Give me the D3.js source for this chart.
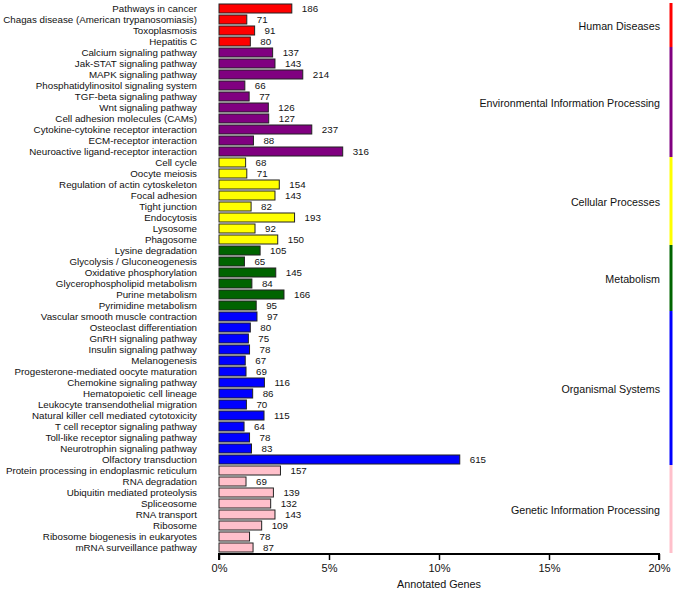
<!DOCTYPE html>
<html><head><meta charset="utf-8">
<script src="https://cdn.jsdelivr.net/npm/d3@7"></script>
<style>body{margin:0;background:#fff}svg{display:block}text{font-family:"Liberation Sans",Arial,sans-serif;fill:#111}</style>
</head><body><div id="chart"></div>
<script>
const pathways = ["Pathways in cancer","Chagas disease (American trypanosomiasis)","Toxoplasmosis","Hepatitis C",
"Calcium signaling pathway","Jak-STAT signaling pathway","MAPK signaling pathway","Phosphatidylinositol signaling system","TGF-beta signaling pathway","Wnt signaling pathway","Cell adhesion molecules (CAMs)","Cytokine-cytokine receptor interaction","ECM-receptor interaction","Neuroactive ligand-receptor interaction",
"Cell cycle","Oocyte meiosis","Regulation of actin cytoskeleton","Focal adhesion","Tight junction","Endocytosis","Lysosome","Phagosome",
"Lysine degradation","Glycolysis / Gluconeogenesis","Oxidative phosphorylation","Glycerophospholipid metabolism","Purine metabolism","Pyrimidine metabolism",
"Vascular smooth muscle contraction","Osteoclast differentiation","GnRH signaling pathway","Insulin signaling pathway","Melanogenesis","Progesterone-mediated oocyte maturation","Chemokine signaling pathway","Hematopoietic cell lineage","Leukocyte transendothelial migration","Natural killer cell mediated cytotoxicity","T cell receptor signaling pathway","Toll-like receptor signaling pathway","Neurotrophin signaling pathway","Olfactory transduction",
"Protein processing in endoplasmic reticulum","RNA degradation","Ubiquitin mediated proteolysis","Spliceosome","RNA transport","Ribosome","Ribosome biogenesis in eukaryotes","mRNA surveillance pathway"];
const counts = [186,71,91,80,
137,143,214,66,77,126,127,237,88,316,
68,71,154,143,82,193,92,150,
105,65,145,84,166,95,
97,80,75,78,67,69,116,86,70,115,64,78,83,615,
157,69,139,132,143,109,78,87];
const groupNames = ["Human Diseases","Environmental Information Processing","Cellular Processes","Metabolism","Organismal Systems","Genetic Information Processing"];
const groupSizes = [4,10,8,6,14,8];
const groupColors = ["#ff0000","#800080","#ffff00","#006400","#0000ff","#ffc0cb"];
const totalGenes = 5620;
const xTicks = [0,0.05,0.10,0.15,0.20];
const xTitle = "Annotated Genes";

const W=675,H=592;
const svg=d3.select("#chart").append("svg").attr("width",W).attr("height",H);

const groupOf=[]; groupSizes.forEach((n,gi)=>{for(let i=0;i<n;i++)groupOf.push(gi);});
const data=pathways.map((p,i)=>({name:p,count:counts[i],g:groupOf[i]}));

const x=d3.scaleLinear().domain([0,0.20]).range([219,659]);
const y=d3.scaleBand().domain(pathways).range([3,553]).paddingInner(0.18).paddingOuter(0.09);

svg.selectAll("rect.bar").data(data).join("rect").attr("class","bar")
 .attr("x",x(0)).attr("y",d=>y(d.name)).attr("width",d=>x(d.count/totalGenes)-x(0))
 .attr("height",y.bandwidth()).attr("fill",d=>groupColors[d.g]).attr("stroke","#222").attr("stroke-width",1);

// fit label font so the widest label spans ~194px (as in the reference)
const probe=svg.append("text").attr("font-size",10).text(pathways[1]);
const w10=probe.node().getComputedTextLength(); probe.remove();
const fs=Math.min(11,10*194/w10);

svg.selectAll("text.val").data(data).join("text").attr("class","val")
 .attr("x",d=>x(d.count/totalGenes)+10).attr("y",d=>y(d.name)+y.bandwidth()/2).attr("dy","0.35em")
 .attr("font-size",fs).text(d=>d.count);

svg.selectAll("text.lab").data(data).join("text").attr("class","lab")
 .attr("x",197).attr("y",d=>y(d.name)+y.bandwidth()/2).attr("dy","0.35em").attr("text-anchor","end")
 .attr("font-size",fs).text(d=>d.name);

const ax=svg.append("g").attr("transform","translate(0,554)")
 .call(d3.axisBottom(x).tickValues(xTicks).tickFormat(d=>Math.round(d*100)+"%").tickSize(6).tickPadding(4));
ax.select(".domain").attr("stroke","#000").attr("stroke-width",2).attr("d",`M${x(0)},6V0H${x(0.2)}V6`);
ax.selectAll(".tick line").attr("stroke","#000").attr("stroke-width",1.5);
ax.selectAll(".tick text").attr("font-size",11).attr("font-family","Liberation Sans, Arial, sans-serif").attr("fill","#111");
svg.append("text").attr("x",(x(0)+x(0.2))/2).attr("y",588).attr("text-anchor","middle")
 .attr("font-size",10.8).text(xTitle);

let start=0;
const step=y.step();
groupSizes.forEach((n,gi)=>{
  const first=pathways[start], last=pathways[start+n-1];
  const y0=y(first)-(step-y.bandwidth())/2, y1=y(last)+y.bandwidth()+(step-y.bandwidth())/2;
  svg.append("line").attr("x1",671).attr("x2",671).attr("y1",y0).attr("y2",y1)
    .attr("stroke",groupColors[gi]).attr("stroke-width",3);
  svg.append("text").attr("x",660).attr("y",(y0+y1)/2+1).attr("dy","0.35em").attr("text-anchor","end")
    .attr("font-size",10.7).text(groupNames[gi]);
  start+=n;
});
</script></body></html>
